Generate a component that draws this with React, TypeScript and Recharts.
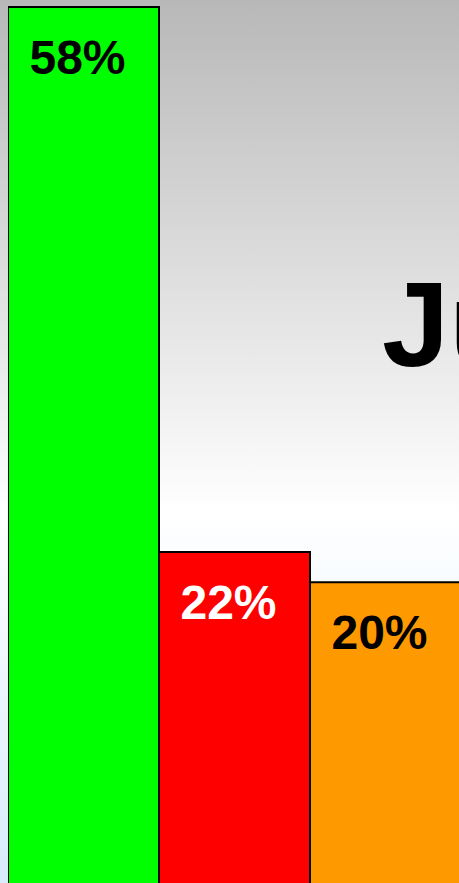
import React from 'react';
import { BarChart, Bar, XAxis, YAxis, Cell, LabelList } from 'recharts';

const categories = ['Green', 'Red', 'Orange'];
const shares = [58, 22, 20];
const barColors = ['#00ff00', '#ff0000', '#ff9900'];
const labelColors = ['#000000', '#ffffff', '#000000'];
const title = 'June';

const data = categories.map((name, i) => ({ name, value: shares[i] }));

const renderLabel = (props: any) => {
  const { x, y, width, index, value } = props;
  return (
    <text
      x={x + width / 2 - 6}
      y={y + 67}
      textAnchor="middle"
      fill={labelColors[index]}
      fontFamily="'Liberation Sans', Arial, sans-serif"
      fontWeight="bold"
      fontSize={48}
    >
      {value}%
    </text>
  );
};

export default function App() {
  return (
    <div
      style={{
        position: 'fixed',
        left: 0,
        top: 0,
        width: 459,
        height: 883,
        overflow: 'hidden',
        background: 'linear-gradient(to bottom, #b8b8b8 0%, #ffffff 58%, #d8ebfb 100%)',
      }}
    >
      <svg
        width={459}
        height={883}
        style={{ position: 'absolute', left: 0, top: 0 }}
      >
        <text
          x={382}
          y={366}
          fill="#000"
          fontFamily="'Liberation Sans', Arial, sans-serif"
          fontWeight="bold"
          fontSize={121}
        >
          {title}
        </text>
      </svg>
      <div style={{ position: 'absolute', left: 8, top: 0 }}>
        <BarChart
          width={453}
          height={885}
          data={data}
          margin={{ top: 7, right: 0, left: 0, bottom: 0 }}
          barCategoryGap={0}
        >
          <XAxis dataKey="name" hide />
          <YAxis domain={[0, 58]} hide />
          <Bar dataKey="value" stroke="#000" strokeWidth={2} isAnimationActive={false}>
            {data.map((d, i) => (
              <Cell key={d.name} fill={barColors[i]} />
            ))}
            <LabelList dataKey="value" content={renderLabel} />
          </Bar>
        </BarChart>
      </div>
    </div>
  );
}
